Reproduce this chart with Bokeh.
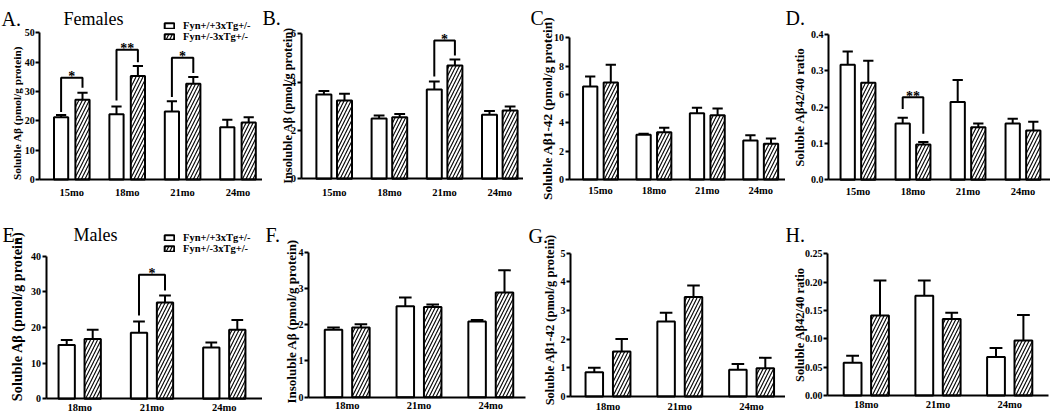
import math
from bokeh.plotting import figure
from bokeh.models import (ColumnDataSource, Range1d, FixedTicker, NumeralTickFormatter,
                          Whisker, TeeHead, Legend, LegendItem, Label)
from bokeh.layouts import row, column
from bokeh.embed import file_html
from bokeh.resources import INLINE
from bokeh.core.properties import value

# ---------------- data ----------------
female_ages = ["15mo", "18mo", "21mo", "24mo"]
male_ages = ["18mo", "21mo", "24mo"]
genotypes = ["Fyn+/+3xTg+/-", "Fyn+/-3xTg+/-"]

# A. Females, soluble Abeta
a_wt = [21.2, 22.2, 23.2, 17.8]
a_wt_err = [0.8, 2.7, 3.5, 2.6]
a_het = [27.2, 35.3, 32.6, 19.4]
a_het_err = [2.4, 3.4, 2.3, 1.8]
a_yticks = [0, 10, 20, 30, 40, 50]
a_sig_age = ["15mo", "18mo", "21mo"]
a_sig_top = [34.7, 44.2, 41.5]
a_sig_left = [23.0, 26.9, 28.1]
a_sig_right = [31.3, 40.0, 36.3]
a_sig_mark = ["*", "**", "*"]

# B. Females, insoluble Abeta
b_wt = [3.49, 2.50, 3.70, 2.65]
b_wt_err = [0.14, 0.12, 0.33, 0.16]
b_het = [3.24, 2.55, 4.69, 2.83]
b_het_err = [0.28, 0.13, 0.25, 0.16]
b_yticks = [0, 2, 4, 6]
b_sig_age = ["21mo"]
b_sig_top = [5.72]
b_sig_left = [4.23]
b_sig_right = [5.10]
b_sig_mark = ["*"]

# C. Females, soluble Abeta1-42
c_wt = [6.56, 3.15, 4.68, 2.75]
c_wt_err = [0.71, 0.07, 0.38, 0.38]
c_het = [6.85, 3.34, 4.54, 2.52]
c_het_err = [1.24, 0.31, 0.47, 0.37]
c_yticks = [0, 2, 4, 6, 8, 10]

# D. Females, soluble Abeta42/40 ratio
d_wt = [0.317, 0.155, 0.214, 0.155]
d_wt_err = [0.036, 0.016, 0.061, 0.013]
d_het = [0.267, 0.097, 0.145, 0.136]
d_het_err = [0.061, 0.007, 0.010, 0.024]
d_yticks = [0.0, 0.1, 0.2, 0.3, 0.4]
d_sig_age = ["18mo"]
d_sig_top = [0.2275]
d_sig_left = [0.195]
d_sig_right = [0.127]
d_sig_mark = ["**"]

# E. Males, soluble Abeta
e_wt = [15.1, 18.5, 14.4]
e_wt_err = [1.4, 3.2, 1.4]
e_het = [16.8, 27.0, 19.4]
e_het_err = [2.6, 2.0, 2.7]
e_yticks = [0, 10, 20, 30, 40]
e_sig_age = ["21mo"]
e_sig_top = [34.8]
e_sig_left = [23.4]
e_sig_right = [30.4]
e_sig_mark = ["*"]

# F. Males, insoluble Abeta
f_wt = [1.86, 2.51, 2.09]
f_wt_err = [0.06, 0.24, 0.04]
f_het = [1.92, 2.49, 2.89]
f_het_err = [0.09, 0.07, 0.61]
f_yticks = [0, 1, 2, 3, 4]

# G. Males, soluble Abeta1-42
g_wt = [0.85, 2.62, 0.93]
g_wt_err = [0.15, 0.30, 0.20]
g_het = [1.57, 3.47, 0.99]
g_het_err = [0.44, 0.40, 0.36]
g_yticks = [0, 1, 2, 3, 4, 5]

# H. Males, soluble Abeta42/40 ratio
h_wt = [0.058, 0.176, 0.068]
h_wt_err = [0.012, 0.027, 0.016]
h_het = [0.141, 0.135, 0.097]
h_het_err = [0.062, 0.011, 0.045]
h_yticks = [0.00, 0.05, 0.10, 0.15, 0.20, 0.25]

# ---------------- layout helpers ----------------
SX = 1.0
SY = 1.0
FONT = "Liberation Serif"


def build(letter, ages, wt, wt_err, het, het_err, yticks, ylabel, geo,
          fmt="0", sig=None, title=None, legend=None):
    fx0, fx1, fy0, fy1 = geo["fig"]
    L, R, T, B = geo["frame"]
    W = round(fx1 * SX) - round(fx0 * SX)
    H = round(fy1 * SY) - round(fy0 * SY)
    c0, step = geo["c0"], geo["step"]
    xs = (fx0 - c0) / step
    xe = (fx1 - c0) / step
    x_axis_at = (L - c0) / step
    x_axis_end = (R - c0) / step
    ymax = yticks[-1]
    per_px = ymax / (B - T)
    y_start = -(fy1 - B) * per_px
    y_end = (B - fy0) * per_px
    bw = geo["bw"] / step
    off = geo["off"] / step

    p = figure(width=W, height=H, output_backend="svg", toolbar_location=None,
               x_range=Range1d(xs, xe), y_range=Range1d(y_start, y_end),
               min_border_left=0, min_border_right=0,
               min_border_top=0, min_border_bottom=0)
    p.outline_line_color = None
    p.xgrid.visible = False
    p.ygrid.visible = False

    idx = list(range(len(ages)))
    xw = [i - off for i in idx]
    xh = [i + off for i in idx]
    src_w = ColumnDataSource(dict(x=xw, top=wt, upper=[v + e for v, e in zip(wt, wt_err)]))
    src_h = ColumnDataSource(dict(x=xh, top=het, upper=[v + e for v, e in zip(het, het_err)]))

    r_w = p.vbar(x="x", top="top", bottom=0, width=bw, source=src_w,
                 fill_color="white", line_color="black", line_width=2)
    r_h = p.vbar(x="x", top="top", bottom=0, width=bw, source=src_h,
                 fill_color="white", line_color="black", line_width=2,
                 hatch_pattern="/", hatch_color="black", hatch_scale=7, hatch_weight=1.1)
    cap = geo["bw"] * 0.72
    for src in (src_w, src_h):
        p.add_layout(Whisker(source=src, base="x", upper="upper", lower="top",
                             lower_head=None,
                             upper_head=TeeHead(size=cap, line_width=2, line_color="black"),
                             line_width=2, line_color="black"))

    if sig is not None:
        s_age, s_top, s_left, s_right, s_mark = sig
        mx, my, tx = [], [], []
        for a, t, l, r in zip(s_age, s_top, s_left, s_right):
            i = ages.index(a)
            mx.append([i - off, i - off, i + off, i + off])
            my.append([l, t, t, r])
            tx.append(i)
        p.multi_line(xs=mx, ys=my, line_color="black", line_width=2)
        p.text(x=tx, y=s_top, text=s_mark, text_align="center", text_baseline="alphabetic",
               text_font=value(FONT), text_font_style="bold", text_font_size="14px",
               y_offset=-1, text_color="black")

    # y axis, drawn at a fixed data location
    ya = p.yaxis[0]
    ya.fixed_location = x_axis_at
    ya.bounds = (0, ymax)
    ya.ticker = FixedTicker(ticks=yticks)
    ya.formatter = NumeralTickFormatter(format=fmt)
    ya.major_label_text_font = FONT
    ya.major_label_text_font_style = "bold"
    ya.major_label_text_font_size = "10px"
    ya.major_label_text_color = "black"
    ya.major_label_standoff = 1
    ya.axis_line_width = 2
    ya.axis_line_color = "black"
    ya.major_tick_line_width = 2
    ya.major_tick_line_color = "black"
    ya.major_tick_out = 4
    ya.major_tick_in = 0
    ya.minor_tick_out = 0
    ya.minor_tick_in = 0

    # x axis, drawn at y = 0
    xa = p.xaxis[0]
    xa.fixed_location = 0
    xa.bounds = (x_axis_at, x_axis_end)
    xa.ticker = FixedTicker(ticks=idx)
    xa.major_label_overrides = {i: a for i, a in zip(idx, ages)}
    xa.major_label_text_font = FONT
    xa.major_label_text_font_style = "bold"
    xa.major_label_text_font_size = "10.5px"
    xa.major_label_text_color = "black"
    xa.major_label_standoff = geo["x_standoff"]
    xa.axis_line_width = 2
    xa.axis_line_color = "black"
    xa.major_tick_out = 0
    xa.major_tick_in = 0
    xa.minor_tick_out = 0
    xa.minor_tick_in = 0

    # y axis title (rotated label, screen units from the canvas' bottom-left)
    lcx, lcy = geo["ylab_pos"]
    p.add_layout(Label(x=(lcx - fx0) * SX, y=(fy1 - lcy) * SY, x_units="screen", y_units="screen",
                       text=ylabel, angle=math.pi / 2, text_align="center", text_baseline="middle",
                       text_font=FONT, text_font_style="bold", text_font_size=geo["lab_size"],
                       text_color="black"))

    # panel letter and title
    lx, lb = geo["letter_pos"]
    p.add_layout(Label(x=(lx - fx0) * SX, y=(fy1 - lb) * SY, x_units="screen", y_units="screen",
                       text=letter, text_font=FONT, text_font_size="20px",
                       text_baseline="alphabetic", text_color="black"))
    if title is not None:
        tt, tx0, tb = title
        p.add_layout(Label(x=(tx0 - fx0) * SX, y=(fy1 - tb) * SY, x_units="screen", y_units="screen",
                           text=tt, text_font=FONT, text_font_size="18px",
                           text_baseline="alphabetic", text_color="black"))
    if legend is not None:
        lgx, lgb = legend
        leg = Legend(items=[LegendItem(label=genotypes[0], renderers=[r_w]),
                            LegendItem(label=genotypes[1], renderers=[r_h])],
                     location=((lgx - fx0) * SX, (fy1 - lgb) * SY),
                     glyph_width=12, glyph_height=7, label_height=7, label_width=10,
                     label_standoff=8, spacing=0, padding=0, margin=0,
                     border_line_color=None, background_fill_alpha=0,
                     label_text_font=FONT, label_text_font_style="bold",
                     label_text_font_size="10.5px", label_text_color="black")
        p.add_layout(leg, "center")
    return p


geo_a = dict(fig=(0, 262, 0, 207), frame=(39.3, 262, 32.3, 179), c0=71.3, step=55.4, bw=14.2, off=10.7,
             lab_size="11.3px", ylab_pos=(16, 112.5), x_standoff=7, letter_pos=(1, 18.3))
geo_b = dict(fig=(262, 523, 0, 207), frame=(300.5, 523, 33.3, 178.3), c0=333.7, step=55.2, bw=15, off=10.3,
             lab_size="12.4px", ylab_pos=(287.5, 105), x_standoff=8, letter_pos=(262, 17.3))
geo_c = dict(fig=(523, 785, 0, 207), frame=(568.5, 785, 37.3, 179), c0=600, step=53.4, bw=14.3, off=10.3,
             lab_size="13.4px", ylab_pos=(546.5, 107.8), x_standoff=5, letter_pos=(530, 17.3))
geo_d = dict(fig=(785, 1050, 0, 207), frame=(828, 1050, 34, 179.3), c0=857.5, step=55, bw=14.3, off=10.3,
             lab_size="12.9px", ylab_pos=(799.5, 106.7), x_standoff=6, letter_pos=(785, 17.3))
geo_e = dict(fig=(0, 262, 207, 414), frame=(45.5, 262, 255.7, 398.3), c0=79.2, step=72.3, bw=16.3, off=13,
             lab_size="14.3px", ylab_pos=(16.2, 315.8), x_standoff=3, letter_pos=(2, 234.3))
geo_f = dict(fig=(262, 526, 207, 414), frame=(308, 525, 251.7, 396.7), c0=346.7, step=71.8, bw=17.5, off=13.7,
             lab_size="13px", ylab_pos=(290.5, 320.8), x_standoff=3, letter_pos=(265, 234.3))
geo_g = dict(fig=(526, 785, 207, 414), frame=(570, 785, 252.7, 396), c0=607.5, step=71.8, bw=17.5, off=13.7,
             lab_size="12.5px", ylab_pos=(549, 319.2), x_standoff=4, letter_pos=(528, 235))
geo_h = dict(fig=(785, 1050, 207, 414), frame=(827, 1048, 253.3, 395), c0=865.8, step=71.7, bw=17.8, off=13.7,
             lab_size="12.4px", ylab_pos=(799, 324.2), x_standoff=3, letter_pos=(785, 234.3))

pa = build("A.", female_ages, a_wt, a_wt_err, a_het, a_het_err, a_yticks,
           "Soluble A\u03b2 (pmol/g protein)", geo_a,
           sig=(a_sig_age, a_sig_top, a_sig_left, a_sig_right, a_sig_mark),
           title=("Females", 63, 18.3), legend=(163, 41.5))
pb = build("B.", female_ages, b_wt, b_wt_err, b_het, b_het_err, b_yticks,
           "Insoluble A\u03b2 (pmol/g protein)", geo_b,
           sig=(b_sig_age, b_sig_top, b_sig_left, b_sig_right, b_sig_mark))
pc = build("C.", female_ages, c_wt, c_wt_err, c_het, c_het_err, c_yticks,
           "Soluble A\u03b21-42 (pmol/g protein)", geo_c)
pd_ = build("D.", female_ages, d_wt, d_wt_err, d_het, d_het_err, d_yticks,
            "Soluble A\u03b242/40 ratio", geo_d, fmt="0.0",
            sig=(d_sig_age, d_sig_top, d_sig_left, d_sig_right, d_sig_mark))
pe = build("E.", male_ages, e_wt, e_wt_err, e_het, e_het_err, e_yticks,
           "Soluble A\u03b2 (pmol/g protein)", geo_e,
           sig=(e_sig_age, e_sig_top, e_sig_left, e_sig_right, e_sig_mark),
           title=("Males", 73, 234), legend=(163, 254))
pf = build("F.", male_ages, f_wt, f_wt_err, f_het, f_het_err, f_yticks,
           "Insoluble A\u03b2 (pmol/g protein)", geo_f)
pg = build("G.", male_ages, g_wt, g_wt_err, g_het, g_het_err, g_yticks,
           "Soluble A\u03b21-42 (pmol/g protein)", geo_g)
ph = build("H.", male_ages, h_wt, h_wt_err, h_het, h_het_err, h_yticks,
           "Soluble A\u03b242/40 ratio", geo_h, fmt="0.00")

layout = column(row(pa, pb, pc, pd_, spacing=0), row(pe, pf, pg, ph, spacing=0), spacing=0)

with open("out.html", "w") as fh:
    fh.write(file_html(layout, INLINE))
